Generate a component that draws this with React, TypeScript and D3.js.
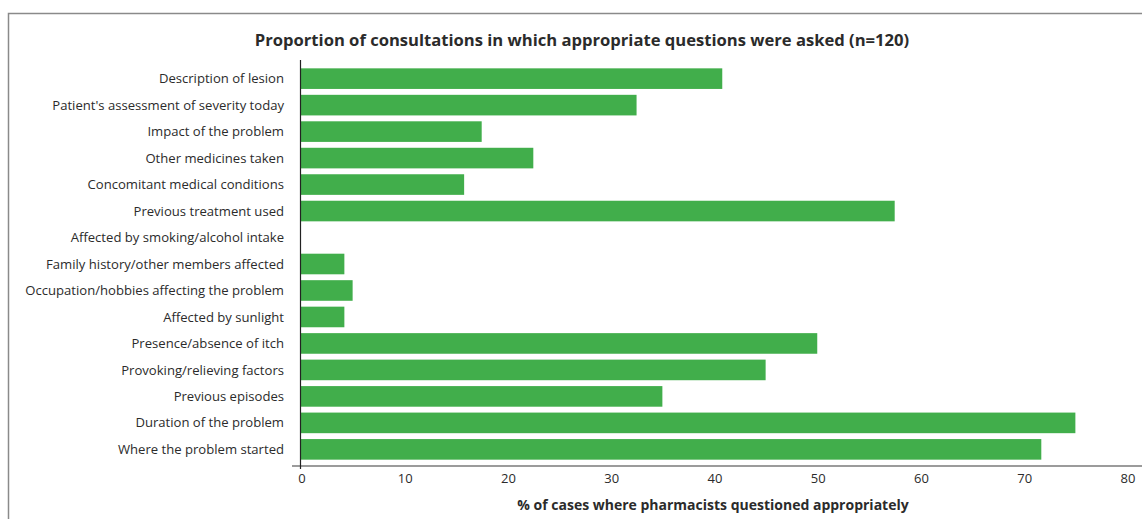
import { useEffect, useRef } from 'react';
import * as d3 from 'd3';

const categories = [
  'Description of lesion',
  "Patient's assessment of severity today",
  'Impact of the problem',
  'Other medicines taken',
  'Concomitant medical conditions',
  'Previous treatment used',
  'Affected by smoking/alcohol intake',
  'Family history/other members affected',
  'Occupation/hobbies affecting the problem',
  'Affected by sunlight',
  'Presence/absence of itch',
  'Provoking/relieving factors',
  'Previous episodes',
  'Duration of the problem',
  'Where the problem started',
];

const percentages = [40.8, 32.5, 17.5, 22.5, 15.8, 57.5, 0, 4.2, 5.0, 4.2, 50.0, 45.0, 35.0, 75.0, 71.7];

const xTicks = [0, 10, 20, 30, 40, 50, 60, 70, 80];

const title = 'Proportion of consultations in which appropriate questions were asked (n=120)';
const xTitle = '% of cases where pharmacists questioned appropriately';

export default function App() {
  const svgRef = useRef<SVGSVGElement>(null);

  useEffect(() => {
    document.body.style.margin = '0';
    if (!svgRef.current) return;

    d3.select(svgRef.current).selectAll('*').remove();

    const width = 1142;
    const height = 519;
    const font = "'Open Sans', 'DejaVu Sans', sans-serif";
    const textColor = '#2b2b2b';

    const svg = d3
      .select(svgRef.current)
      .attr('width', width)
      .attr('height', height)
      .style('font-family', font);

    // frame
    svg
      .append('rect')
      .attr('x', 8.5)
      .attr('y', 13.5)
      .attr('width', width + 10)
      .attr('height', height + 10)
      .attr('fill', 'white')
      .attr('stroke', '#8a8a8a')
      .attr('stroke-width', 1.5);

    const x = d3.scaleLinear().domain([0, 80]).range([301, 1127]);
    const y = d3
      .scaleBand<string>()
      .domain(categories)
      .range([65.4, 462.6])
      .paddingInner(0.222)
      .paddingOuter(0.111);

    // title
    svg
      .append('text')
      .attr('x', 582)
      .attr('y', 46)
      .attr('text-anchor', 'middle')
      .attr('font-size', 16.6)
      .attr('font-weight', 'bold')
      .attr('fill', textColor)
      .text(title);

    // bars
    svg
      .append('g')
      .selectAll('rect')
      .data(percentages)
      .join('rect')
      .attr('x', x(0))
      .attr('y', (_, i) => y(categories[i])!)
      .attr('width', (d) => x(d) - x(0))
      .attr('height', y.bandwidth())
      .attr('fill', '#41ae4b');

    // category labels
    svg
      .append('g')
      .selectAll('text')
      .data(categories)
      .join('text')
      .attr('x', 284)
      .attr('y', (d) => y(d)! + y.bandwidth() / 2)
      .attr('dy', '0.35em')
      .attr('text-anchor', 'end')
      .attr('font-size', 13.1)
      .attr('fill', textColor)
      .text((d) => d);

    // x axis line
    svg
      .append('line')
      .attr('x1', 292)
      .attr('x2', width)
      .attr('y1', 466)
      .attr('y2', 466)
      .attr('stroke', '#7a7a7a')
      .attr('stroke-width', 1.5);

    // y axis line
    svg
      .append('line')
      .attr('x1', 300.5)
      .attr('x2', 300.5)
      .attr('y1', 60)
      .attr('y2', 469)
      .attr('stroke', '#222')
      .attr('stroke-width', 1.2);

    // tick labels
    svg
      .append('g')
      .selectAll('text')
      .data(xTicks)
      .join('text')
      .attr('x', (d) => x(d) + 1)
      .attr('y', 483)
      .attr('text-anchor', 'middle')
      .attr('font-size', 13)
      .attr('fill', textColor)
      .text((d) => d);

    // x axis title
    svg
      .append('text')
      .attr('x', 713)
      .attr('y', 510)
      .attr('text-anchor', 'middle')
      .attr('font-size', 14)
      .attr('font-weight', 'bold')
      .attr('fill', textColor)
      .text(xTitle);
  }, []);

  return <svg ref={svgRef} style={{ display: 'block' }}></svg>;
}
